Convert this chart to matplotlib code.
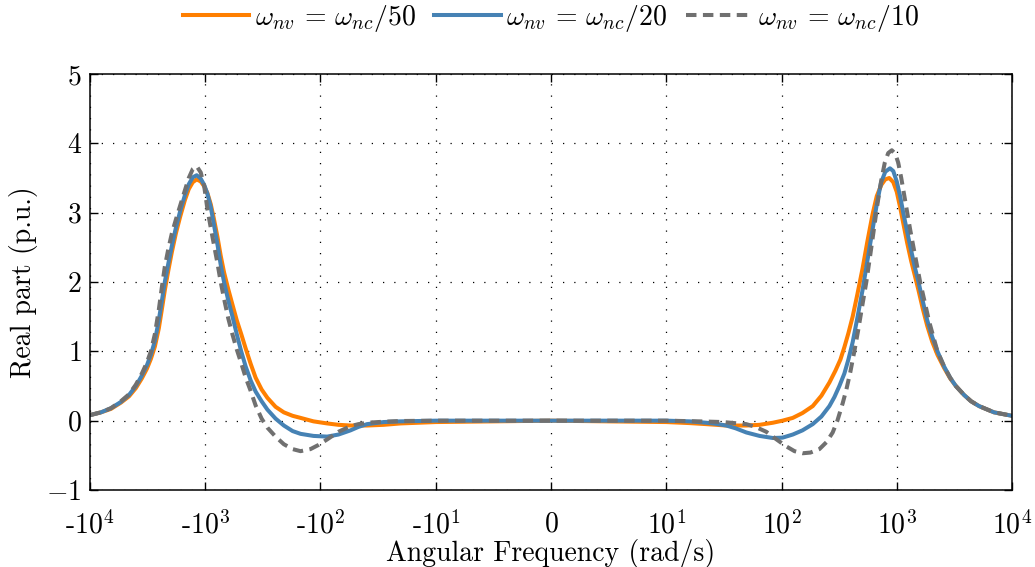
import matplotlib
matplotlib.use("Agg")
import matplotlib.pyplot as plt
from matplotlib.ticker import NullLocator

plt.rcParams['font.family'] = 'serif'
plt.rcParams['font.serif'] = ['cmr10']
plt.rcParams['mathtext.fontset'] = 'cm'
plt.rcParams['axes.unicode_minus'] = False
plt.rcParams['axes.formatter.use_mathtext'] = True

# ---- data: (angular frequency in rad/s, real part in p.u.) ----
orange_pts = [
    (-1e4, 0.08), (-10**3.905, 0.12), (-10**3.818, 0.17), (-10**3.732, 0.26), (-10**3.662, 0.35),
    (-10**3.602, 0.47), (-10**3.550, 0.61), (-10**3.506, 0.75), (-10**3.472, 0.89), (-10**3.437, 1.07),
    (-10**3.403, 1.33), (-10**3.377, 1.60), (-10**3.351, 1.88), (-10**3.320, 2.17), (-10**3.290, 2.43),
    (-10**3.255, 2.70), (-10**3.218, 2.94), (-10**3.177, 3.18), (-10**3.143, 3.34), (-10**3.108, 3.44),
    (-10**3.074, 3.48), (-10**3.039, 3.45), (-10**3.009, 3.38), (-10**2.981, 3.28), (-10**2.952, 3.12),
    (-10**2.926, 2.92), (-10**2.894, 2.65), (-10**2.866, 2.38), (-10**2.837, 2.14), (-10**2.801, 1.90),
    (-10**2.765, 1.68), (-10**2.727, 1.45), (-10**2.688, 1.25), (-10**2.649, 1.04), (-10**2.606, 0.82),
    (-10**2.563, 0.62), (-10**2.511, 0.45), (-10**2.461, 0.33), (-10**2.390, 0.20), (-10**2.318, 0.12),
    (-10**2.242, 0.07), (-10**2.173, 0.04), (-10**2.061, -0.01), (-10**1.942, -0.04), (-10**1.844, -0.06),
    (-10**1.740, -0.07), (-10**1.596, -0.07), (-10**1.452, -0.06), (-10**1.307, -0.04), (-10, -0.02),
    (-5, -0.01), (0, 0.0), (5, -0.01), (10, -0.02), (10**1.2035, -0.035), (10**1.348, -0.05),
    (10**1.5212, -0.07), (10**1.6944, -0.07), (10**1.8095, -0.06), (10**1.9247, -0.03), (10**2.0087, 0.0),
    (10**2.0978, 0.04), (10**2.1818, 0.11), (10**2.2710, 0.21), (10**2.3463, 0.36), (10**2.4156, 0.55),
    (10**2.4675, 0.72), (10**2.5108, 0.88), (10**2.5455, 1.06), (10**2.5801, 1.26), (10**2.6173, 1.50),
    (10**2.6580, 1.82), (10**2.7039, 2.20), (10**2.7446, 2.58), (10**2.7905, 2.98), (10**2.8268, 3.24),
    (10**2.8658, 3.40), (10**2.9004, 3.48), (10**2.9351, 3.50), (10**2.9697, 3.44), (10**3.0000, 3.30),
    (10**3.0303, 3.07), (10**3.0563, 2.85), (10**3.0909, 2.56), (10**3.1255, 2.30), (10**3.1558, 2.10),
    (10**3.1887, 1.88), (10**3.2251, 1.62), (10**3.2641, 1.37), (10**3.3074, 1.14), (10**3.3532, 0.95),
    (10**3.4113, 0.76), (10**3.4632, 0.61), (10**3.5126, 0.50), (10**3.5844, 0.37), (10**3.6450, 0.28),
    (10**3.7143, 0.21), (10**3.8442, 0.12), (1e4, 0.07)]

blue_pts = [
    (-1e4, 0.08), (-10**3.905, 0.12), (-10**3.818, 0.18), (-10**3.732, 0.27), (-10**3.662, 0.37),
    (-10**3.602, 0.50), (-10**3.550, 0.65), (-10**3.506, 0.80), (-10**3.472, 0.95), (-10**3.437, 1.15),
    (-10**3.403, 1.45), (-10**3.377, 1.72), (-10**3.351, 2.00), (-10**3.320, 2.27), (-10**3.290, 2.52),
    (-10**3.255, 2.78), (-10**3.218, 3.02), (-10**3.177, 3.25), (-10**3.143, 3.41), (-10**3.108, 3.51),
    (-10**3.074, 3.54), (-10**3.039, 3.49), (-10**3.009, 3.40), (-10**2.981, 3.27), (-10**2.952, 3.08),
    (-10**2.926, 2.84), (-10**2.894, 2.54), (-10**2.866, 2.25), (-10**2.837, 2.00), (-10**2.801, 1.74),
    (-10**2.765, 1.51), (-10**2.727, 1.25), (-10**2.688, 1.00), (-10**2.649, 0.78), (-10**2.606, 0.58),
    (-10**2.563, 0.42), (-10**2.511, 0.28), (-10**2.461, 0.16), (-10**2.390, 0.03), (-10**2.318, -0.07),
    (-10**2.242, -0.15), (-10**2.173, -0.19), (-10**2.061, -0.22), (-10**1.942, -0.23), (-10**1.844, -0.20),
    (-10**1.740, -0.14), (-10**1.671, -0.09), (-10**1.596, -0.05), (-10**1.452, -0.02), (-10**1.307, -0.01),
    (-10, 0.0), (0, 0.0), (10, 0.0), (10**1.2035, -0.01), (10**1.348, -0.03), (10**1.4286, -0.045),
    (10**1.5212, -0.07), (10**1.6017, -0.11), (10**1.6944, -0.17), (10**1.8095, -0.22), (10**1.9247, -0.25),
    (10**2.0087, -0.245), (10**2.0978, -0.20), (10**2.1818, -0.14), (10**2.2710, -0.05), (10**2.3463, 0.06),
    (10**2.4156, 0.21), (10**2.4589, 0.34), (10**2.5022, 0.50), (10**2.5455, 0.68), (10**2.5801, 0.88),
    (10**2.6173, 1.13), (10**2.6580, 1.48), (10**2.7039, 1.89), (10**2.7446, 2.30), (10**2.7905, 2.76),
    (10**2.8268, 3.12), (10**2.8632, 3.43), (10**2.9004, 3.59), (10**2.9411, 3.64), (10**2.9697, 3.60),
    (10**3.0000, 3.45), (10**3.0303, 3.23), (10**3.0563, 3.00), (10**3.0909, 2.72), (10**3.1255, 2.45),
    (10**3.1558, 2.22), (10**3.1887, 2.00), (10**3.2251, 1.73), (10**3.2641, 1.45), (10**3.3074, 1.21),
    (10**3.3532, 1.00), (10**3.4113, 0.78), (10**3.4632, 0.62), (10**3.5126, 0.50), (10**3.5844, 0.37),
    (10**3.6450, 0.28), (10**3.7143, 0.21), (10**3.8442, 0.12), (1e4, 0.07)]

gray_pts = [
    (-1e4, 0.08), (-10**3.905, 0.12), (-10**3.818, 0.18), (-10**3.732, 0.28), (-10**3.662, 0.38),
    (-10**3.602, 0.52), (-10**3.550, 0.68), (-10**3.506, 0.84), (-10**3.472, 1.00), (-10**3.437, 1.25),
    (-10**3.403, 1.60), (-10**3.377, 1.92), (-10**3.351, 2.22), (-10**3.320, 2.48), (-10**3.290, 2.70),
    (-10**3.255, 2.90), (-10**3.218, 3.10), (-10**3.177, 3.32), (-10**3.143, 3.50), (-10**3.108, 3.63),
    (-10**3.074, 3.67), (-10**3.039, 3.58), (-10**3.009, 3.38), (-10**2.981, 3.05), (-10**2.952, 2.78),
    (-10**2.926, 2.55), (-10**2.894, 2.27), (-10**2.866, 2.00), (-10**2.837, 1.76), (-10**2.801, 1.48),
    (-10**2.765, 1.25), (-10**2.727, 1.03), (-10**2.688, 0.83), (-10**2.649, 0.62), (-10**2.606, 0.43),
    (-10**2.563, 0.22), (-10**2.511, 0.03), (-10**2.461, -0.10), (-10**2.390, -0.23), (-10**2.318, -0.34),
    (-10**2.242, -0.41), (-10**2.173, -0.44), (-10**2.087, -0.41), (-10**2.017, -0.35), (-10**1.942, -0.27),
    (-10**1.844, -0.16), (-10**1.740, -0.08), (-10**1.671, -0.05), (-10**1.596, -0.03), (-10**1.452, -0.015),
    (-10**1.307, -0.005), (-10, 0.0), (0, 0.0), (10, 0.0), (10**1.290, -0.01), (10**1.492, -0.02),
    (10**1.6944, -0.05), (10**1.775, -0.09), (10**1.8675, -0.16), (10**1.948, -0.26), (10**2.0407, -0.37),
    (10**2.113, -0.44), (10**2.1844, -0.47), (10**2.251, -0.46), (10**2.329, -0.41), (10**2.390, -0.31),
    (10**2.4442, -0.17), (10**2.485, 0.0), (10**2.5307, 0.25), (10**2.563, 0.45), (10**2.597, 0.70),
    (10**2.632, 1.00), (10**2.667, 1.32), (10**2.701, 1.66), (10**2.736, 2.00), (10**2.771, 2.40),
    (10**2.805, 2.80), (10**2.835, 3.15), (10**2.866, 3.47), (10**2.896, 3.72), (10**2.926, 3.86),
    (10**2.957, 3.90), (10**2.987, 3.85), (10**3.013, 3.72), (10**3.039, 3.50), (10**3.065, 3.25),
    (10**3.091, 3.00), (10**3.117, 2.75), (10**3.143, 2.52), (10**3.173, 2.26), (10**3.203, 2.00),
    (10**3.247, 1.68), (10**3.281, 1.43), (10**3.316, 1.22), (10**3.353, 1.00), (10**3.4113, 0.78),
    (10**3.4632, 0.62), (10**3.5126, 0.50), (10**3.5844, 0.37), (10**3.6450, 0.28), (10**3.7143, 0.21),
    (10**3.8442, 0.12), (1e4, 0.07)]

labels = [r'$\omega_{nv}\,=\,\omega_{nc}/50$', r'$\omega_{nv}\,=\,\omega_{nc}/20$',
          r'$\omega_{nv}\,=\,\omega_{nc}/10$']
xtick_vals = [-1e4, -1e3, -1e2, -10, 0, 10, 1e2, 1e3, 1e4]
xtick_labels = [r'-$10^{4}$', r'-$10^{3}$', r'-$10^{2}$', r'-$10^{1}$', r'$0$',
                r'$10^{1}$', r'$10^{2}$', r'$10^{3}$', r'$10^{4}$']
ytick_vals = [-1, 0, 1, 2, 3, 4, 5]
ytick_labels = [r'$-1$', r'$0$', r'$1$', r'$2$', r'$3$', r'$4$', r'$5$']

# ---- plot ----
fig = plt.figure(figsize=(10.35, 5.67), dpi=100)
ax = fig.add_axes([90/1035, 1-490/567, (1012-90)/1035, (490-74)/567])

c_orange = '#ff7f00'
c_blue = '#4682b4'
c_gray = '#707070'

for pts, col, ls, lab in [(orange_pts, c_orange, '-', labels[0]),
                          (blue_pts, c_blue, '-', labels[1]),
                          (gray_pts, c_gray, (0, (2.6, 1.6)), labels[2])]:
    xs = [p[0] for p in pts]
    ys = [p[1] for p in pts]
    ax.plot(xs, ys, color=col, lw=2.9, ls=ls, label=lab, solid_joinstyle='round',
            dash_capstyle='butt')

ax.set_xscale('symlog', linthresh=10, linscale=0.9)
ax.set_xlim(-1e4, 1e4)
ax.set_ylim(-1, 5)
ax.set_xticks(xtick_vals)
ax.set_xticklabels(xtick_labels)
ax.xaxis.set_minor_locator(NullLocator())
ax.set_yticks(ytick_vals)
ax.set_yticklabels(ytick_labels)

ax.tick_params(direction='in', length=6, width=1.0, top=True, right=True,
               labelsize=20, pad=6)
ax.tick_params(axis='x', pad=15)
for s in ax.spines.values():
    s.set_linewidth(1.1)

ax.grid(True, color='black', lw=0.9, ls=(0, (1, 8)))
ax.set_axisbelow(True)

ax.set_xlabel('Angular Frequency (rad/s)', fontsize=20, labelpad=0)
ax.set_ylabel('Real part (p.u.)', fontsize=20, labelpad=6)

fig.legend(loc='center', bbox_to_anchor=(551/1035, 1-18/567), ncol=3, frameon=False,
           fontsize=20, handlelength=2.4, columnspacing=0.65, handletextpad=0.2)

fig.savefig('out.png', dpi=100)
